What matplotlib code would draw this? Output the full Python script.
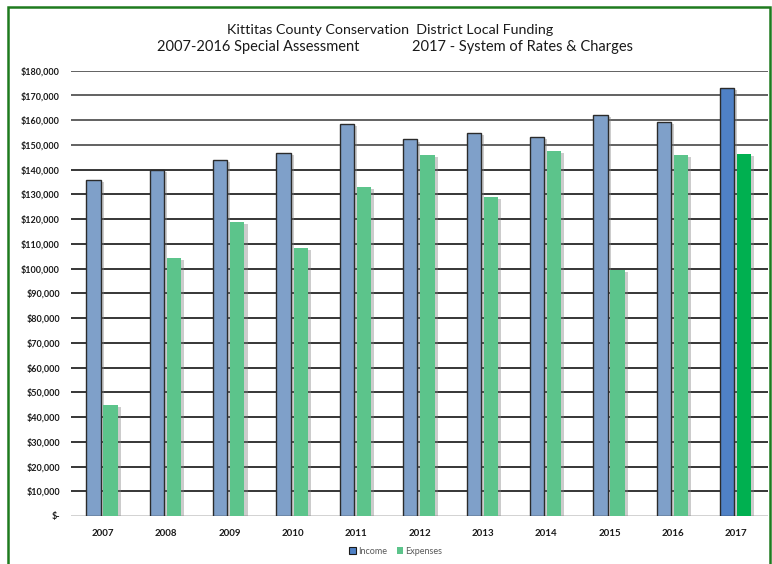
import matplotlib
matplotlib.use("Agg")
import matplotlib.pyplot as plt
import matplotlib.patheffects as pe
from matplotlib.patches import Rectangle, Patch
from matplotlib.ticker import FuncFormatter
import numpy as np

years = ["2007", "2008", "2009", "2010", "2011", "2012", "2013", "2014", "2015", "2016", "2017"]
income = [136000, 140000, 144000, 146800, 158300, 152200, 154900, 153400, 162000, 159100, 172900]
expenses = [45000, 104400, 118700, 108500, 133000, 146100, 128800, 147600, 99300, 146000, 146200]

income_color = "#7fa0c9"
expense_color = "#5cc48b"
income_color_2017 = "#4f81c6"
expense_color_2017 = "#00b050"

plt.rcParams['font.family'] = ['Lato', 'DejaVu Sans']

fig = plt.figure(figsize=(7.72, 5.64), dpi=100)
ax = fig.add_axes([71/772, 48/564, 697/772, 445.3/564])

x = np.arange(len(years))
w = 0.225
shadow = [pe.SimplePatchShadow(offset=(2.2, -1.5), shadow_rgbFace='#808080', alpha=0.4), pe.Normal()]

ic = [income_color] * (len(years) - 1) + [income_color_2017]
ec = [expense_color] * (len(years) - 1) + [expense_color_2017]

b1 = ax.bar(x - 0.145, income, width=w, color=ic, edgecolor='#2b2b2b', linewidth=1.0, zorder=3)
b2 = ax.bar(x + 0.125, expenses, width=w, color=ec, edgecolor='none', zorder=3)
for b in list(b1) + list(b2):
    b.set_path_effects(shadow)

ax.set_xlim(-0.5, len(years) - 0.5)
ax.set_ylim(0, 180000)
ax.set_yticks(np.arange(0, 180001, 10000))
ax.yaxis.set_major_formatter(FuncFormatter(lambda v, p: "$-" if v == 0 else "${:,.0f}".format(v)))
ax.set_xticks(x)
ax.set_xticklabels(years)

for v in np.arange(10000, 180001, 10000):
    c = '#262626' if v <= 140000 else '#555555'
    ax.axhline(v, color=c, lw=1.3, zorder=1)
ax.axhline(0, color='#cfcfcf', lw=1.3, zorder=1)

for s in ax.spines.values():
    s.set_visible(False)
ax.tick_params(axis='both', length=0)
ax.tick_params(axis='y', pad=8, labelsize=6.5, labelcolor='#1a1a1a')
ax.tick_params(axis='x', pad=9, labelsize=7, labelcolor='#1a1a1a')
for t in ax.get_yticklabels() + ax.get_xticklabels():
    t.set_fontweight('bold')

fig.text(390/772, 1 - 30/564, "Kittitas County Conservation  District Local Funding",
         ha='center', va='center', fontsize=10.3, color='#1a1a1a')
fig.text(258/772, 1 - 47/564, "2007-2016 Special Assessment",
         ha='center', va='center', fontsize=10.5, color='#1a1a1a')
fig.text(523/772, 1 - 47/564, "2017 - System of Rates & Charges",
         ha='center', va='center', fontsize=10.5, color='#1a1a1a')

handles = [Patch(facecolor=income_color_2017, edgecolor='#1a1a1a', linewidth=0.8, label='Income'),
           Patch(facecolor=expense_color, edgecolor='none', label='Expenses')]
fig.legend(handles=handles, loc='center', bbox_to_anchor=(396/772, 1 - 551/564), ncol=2,
           frameon=False, fontsize=6.5, handlelength=0.7, handleheight=0.7,
           handletextpad=0.3, columnspacing=1.0, labelcolor='#595959')

border = Rectangle((8/772, -0.05), (770 - 8)/772, 1.05 - 7/564, transform=fig.transFigure,
                   fill=False, edgecolor='#1e7b1e', linewidth=1.8)
fig.add_artist(border)

fig.savefig("out.png", dpi=100)
